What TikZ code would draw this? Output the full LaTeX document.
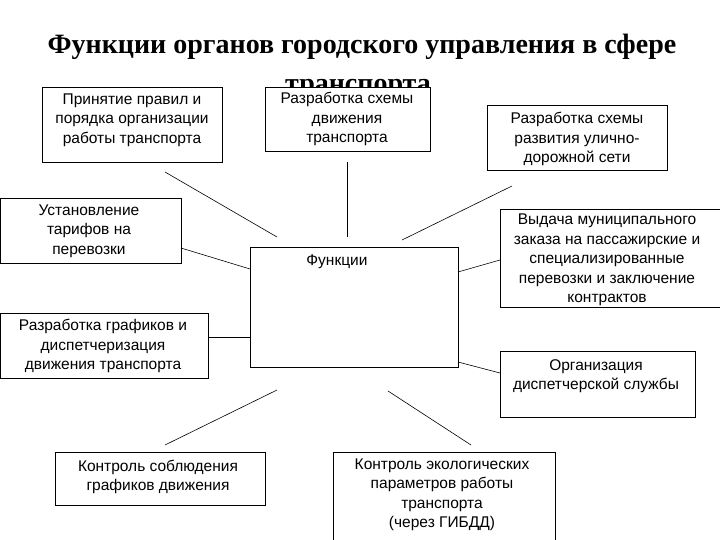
\documentclass[tikz,border=0pt]{standalone}
\usepackage{fontspec}
\setmainfont{Liberation Sans}
\newfontfamily\titlefont{Liberation Serif}
\begin{document}
\begin{tikzpicture}[x=1pt,y=-1pt,
  box/.style={draw=black,fill=white,line width=0.8pt},
  txt/.style={align=center,font=\fontsize{15.5}{19.5}\selectfont,inner sep=0pt},
  conn/.style={draw=black,line width=0.6pt}]
\useasboundingbox[fill=white] (0,0) rectangle (720,540);
\node[font=\titlefont\bfseries\fontsize{28}{32}\selectfont] (title) at (362,47) {Функции органов городского управления в сфере};
\node[font=\titlefont\bfseries\fontsize{28}{32}\selectfont] (title2) at (358,89) {транспорта};
% boxes
\draw[box] (42,87) rectangle (222,162); \node[txt] (b1) at (132,120) {Принятие правил и\\порядка организации\\работы транспорта};
\draw[box] (265,87) rectangle (430,151); \node[txt] (b2) at (347,119) {Разработка схемы\\движения\\транспорта};
\draw[box] (487,105) rectangle (667,170); \node[txt] (b3) at (577,139) {Разработка схемы\\развития улично-\\дорожной сети};
\draw[box] (0,198) rectangle (181,263); \node[txt] (b4) at (89,231) {Установление\\тарифов на\\перевозки};
\draw[box] (250,247) rectangle (458,367); \node[txt] (c) at (337,262) {Функции};
\draw[box] (500,209) rectangle (720,307); \node[txt] (b5) at (607,260) {Выдача муниципального\\заказа на пассажирские и\\специализированные\\перевозки и заключение\\контрактов};
\draw[box] (0,313) rectangle (208,378); \node[txt] (b6) at (103,346) {Разработка графиков и\\диспетчеризация\\движения транспорта};
\draw[box] (500,351) rectangle (695,417); \node[txt] (b7) at (596,376) {Организация\\диспетчерской службы};
\draw[box] (55,452) rectangle (265,505); \node[txt] (b8) at (158,477) {Контроль соблюдения\\графиков движения};
\draw[box] (333,452) rectangle (555,545); \node[txt] (b9) at (442,495) {Контроль экологических\\параметров работы\\транспорта\\(через ГИБДД)};
% connector ends
\coordinate (p1a) at (165,172); \coordinate (p1b) at (277,237);
\coordinate (p2a) at (347,162); \coordinate (p2b) at (347,237);
\coordinate (p3a) at (512,186); \coordinate (p3b) at (402,240);
\coordinate (p4a) at (181,248); \coordinate (p4b) at (250,269);
\coordinate (p5a) at (208,337); \coordinate (p5b) at (250,337);
\coordinate (p6a) at (458,272); \coordinate (p6b) at (500,260);
\coordinate (p7a) at (458,362); \coordinate (p7b) at (500,373);
\coordinate (p8a) at (277,390); \coordinate (p8b) at (165,445);
\coordinate (p9a) at (388,391); \coordinate (p9b) at (471,445);
\foreach \i in {1,...,9} {\draw[conn] (p\i a) -- (p\i b);}
\end{tikzpicture}
\end{document}
